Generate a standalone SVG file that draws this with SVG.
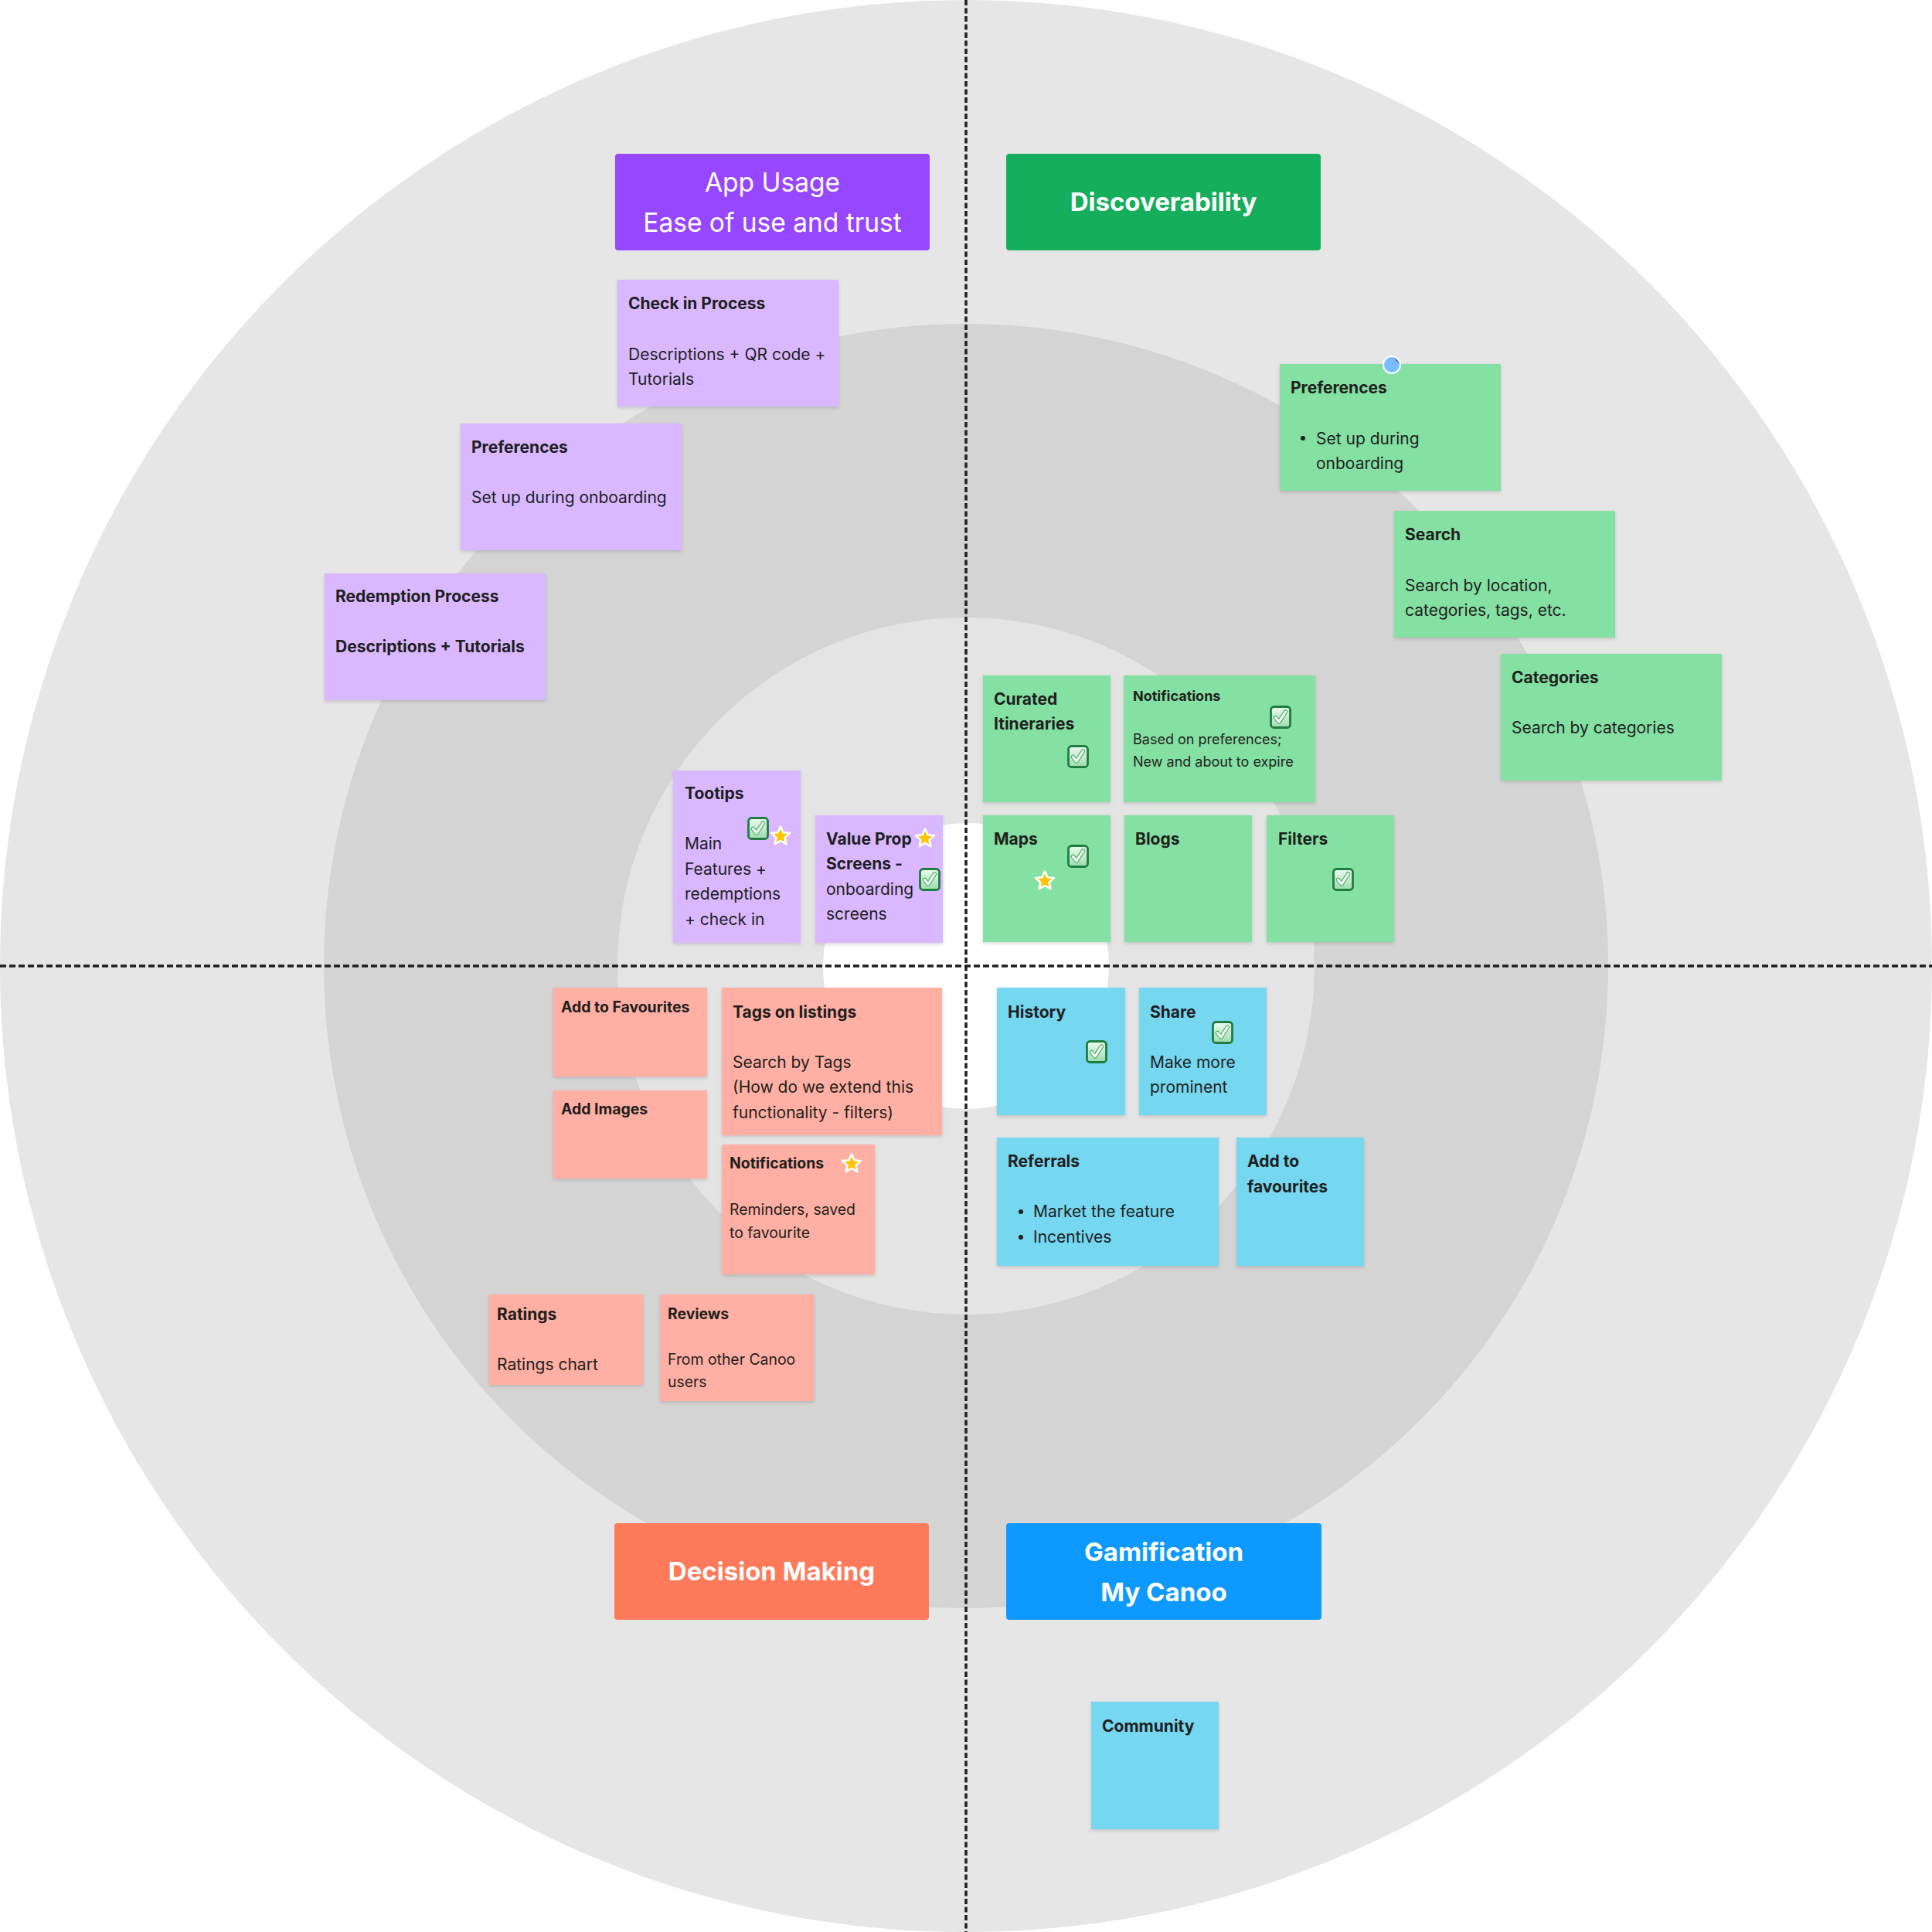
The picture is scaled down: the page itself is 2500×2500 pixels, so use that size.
<svg xmlns="http://www.w3.org/2000/svg" xmlns:xlink="http://www.w3.org/1999/xlink" width="2500" height="2500" viewBox="0 0 2500 2500">
<defs>
<style>
text{font-family:Inter,"Liberation Sans",sans-serif;fill:#1e1e1e}
.t{font-size:21px;font-weight:700}
.ts{font-size:18px;font-weight:700}
.tr{font-size:19.4px;font-weight:700}
.b{font-size:21px;font-weight:400}
.bs{font-size:18px;font-weight:400}
.br{font-size:19.4px;font-weight:400}
.hd{fill:#fff;font-size:33px;font-weight:700;text-anchor:middle}
.hr{fill:#fff;font-size:33.5px;font-weight:400;text-anchor:middle}
.purple{fill:#d9b8ff}
.green{fill:#85e0a3}
.red{fill:#ffafa3}
.blue{fill:#75d7f0}
.sticky{filter:url(#sh)}
.div{stroke:#1e1e1e;stroke-width:3.5;fill:none}
</style>
<filter id="sh" x="-10%" y="-10%" width="120%" height="125%">
<feDropShadow dx="0" dy="2" stdDeviation="2" flood-color="#000" flood-opacity="0.15"/>
</filter>
<linearGradient id="cg" x1="0" y1="0" x2="0" y2="1">
<stop offset="0" stop-color="#eefaf0"/>
<stop offset="1" stop-color="#9edcae"/>
</linearGradient>
<symbol id="chk" viewBox="0 0 28 30" overflow="visible">
<rect x="1.5" y="1.5" width="25" height="27" rx="4" fill="url(#cg)" stroke="#1f7d42" stroke-width="2.8"/>
<path d="M7.5 15.5 L12 21 L20.5 8" fill="none" stroke="#4cb46c" stroke-width="5.5" stroke-linecap="round" stroke-linejoin="round"/>
<path d="M7.5 15.5 L12 21 L20.5 8" fill="none" stroke="#fff" stroke-width="3" stroke-linecap="round" stroke-linejoin="round"/>
</symbol>
<symbol id="star" viewBox="-14 -14 28 28" overflow="visible">
<polygon points="0,-12.5 3.5,-4.7 12,-3.9 5.6,1.9 7.4,10.2 0,5.9 -7.4,10.2 -5.6,1.9 -12,-3.9 -3.5,-4.7" fill="#ffc300" stroke="#fff" stroke-width="2.6" stroke-linejoin="round"/>
</symbol>
</defs>

<g id="background">
<rect x="0" y="0" width="2500" height="2500" fill="#ffffff"/>
<circle cx="1250" cy="1250" r="1250" fill="#e6e6e6"/>
<circle cx="1250" cy="1250" r="831" fill="#d4d4d4"/>
<circle cx="1250" cy="1250" r="451" fill="#e4e4e4"/>
<circle cx="1250" cy="1250" r="185" fill="#ffffff"/>
</g>

<g id="connectors">
<line class="div" x1="1250" y1="0" x2="1250" y2="2500" stroke-dasharray="7 3.5"/>
<line class="div" x1="0" y1="1250" x2="2500" y2="1250" stroke-dasharray="8 4"/>
</g>

<g id="header-app-usage">
<rect x="796" y="199" width="407" height="125" rx="4" fill="#9747ff"/>
<text class="hr" x="999.5" y="248">App Usage</text>
<text class="hr" x="999.5" y="300">Ease of use and trust</text>
</g>
<g id="header-discoverability">
<rect x="1302" y="199" width="407" height="125" rx="4" fill="#14ae5c"/>
<text class="hd" x="1505.5" y="273">Discoverability</text>
</g>
<g id="header-decision-making">
<rect x="795" y="1971" width="407" height="125" rx="4" fill="#ff7a5a"/>
<text class="hd" x="998.5" y="2045">Decision Making</text>
</g>
<g id="header-gamification">
<rect x="1302" y="1971" width="408" height="125" rx="4" fill="#0d99ff"/>
<text class="hd" x="1506" y="2020">Gamification</text>
<text class="hd" x="1506" y="2072">My Canoo</text>
</g>

<!-- Purple -->
<g id="check-in-process">
<rect class="purple sticky" x="799" y="362" width="286" height="164"/>
<text class="t" x="813" y="400">Check in Process</text>
<text class="b" x="813" y="466">Descriptions + QR code +</text>
<text class="b" x="813" y="498">Tutorials</text>
</g>
<g id="preferences-purple">
<rect class="purple sticky" x="596" y="548" width="286" height="164"/>
<text class="t" x="610" y="586">Preferences</text>
<text class="b" x="610" y="651">Set up during onboarding</text>
</g>
<g id="redemption-process">
<rect class="purple sticky" x="420" y="742" width="286" height="164"/>
<text class="t" x="434" y="779">Redemption Process</text>
<text class="t" x="434" y="844">Descriptions + Tutorials</text>
</g>
<g id="tootips">
<rect class="purple sticky" x="871" y="997" width="165" height="223"/>
<text class="t" x="886" y="1034">Tootips</text>
<text class="b" x="886" y="1099">Main</text>
<text class="b" x="886" y="1132">Features +</text>
<text class="b" x="886" y="1164">redemptions</text>
<text class="b" x="886" y="1197">+ check in</text>
<use href="#chk" x="967" y="1057" width="28" height="30"/>
<use href="#star" x="996" y="1068" width="28" height="28"/>
</g>
<g id="value-prop">
<rect class="purple sticky" x="1055" y="1055" width="165" height="165"/>
<text class="t" x="1069" y="1093">Value Prop</text>
<text class="t" x="1069" y="1125">Screens -</text>
<text class="b" x="1069" y="1158">onboarding</text>
<text class="b" x="1069" y="1190">screens</text>
<use href="#star" x="1183" y="1071" width="28" height="28"/>
<use href="#chk" x="1189" y="1123" width="28" height="30"/>
</g>

<!-- Green -->
<g id="preferences-green">
<rect class="green sticky" x="1656" y="471" width="286" height="164"/>
<text class="t" x="1670" y="509">Preferences</text>
<circle cx="1686" cy="567" r="3" fill="#1e1e1e"/>
<text class="b" x="1703" y="575">Set up during</text>
<text class="b" x="1703" y="607">onboarding</text>
<circle cx="1801" cy="472" r="11" fill="#78bcff" stroke="#fff" stroke-width="2"/>
<path d="M1803 463 Q1809 466 1811 471 Z" fill="#3a4a5c"/>
</g>
<g id="search">
<rect class="green sticky" x="1804" y="661" width="286" height="164"/>
<text class="t" x="1818" y="699">Search</text>
<text class="b" x="1818" y="765">Search by location,</text>
<text class="b" x="1818" y="797">categories, tags, etc.</text>
</g>
<g id="categories">
<rect class="green sticky" x="1942" y="846" width="286" height="164"/>
<text class="t" x="1956" y="884">Categories</text>
<text class="b" x="1956" y="949">Search by categories</text>
</g>
<g id="curated-itineraries">
<rect class="green sticky" x="1272" y="874" width="165" height="164"/>
<text class="t" x="1286" y="912">Curated</text>
<text class="t" x="1286" y="944">Itineraries</text>
<use href="#chk" x="1381" y="964" width="28" height="30"/>
</g>
<g id="notifications-green">
<rect class="green sticky" x="1454" y="874" width="248" height="164"/>
<text class="ts" x="1466" y="907">Notifications</text>
<use href="#chk" x="1643" y="913" width="28" height="30"/>
<text class="bs" x="1466" y="963">Based on preferences;</text>
<text class="bs" x="1466" y="992">New and about to expire</text>
</g>
<g id="maps">
<rect class="green sticky" x="1272" y="1055" width="165" height="164"/>
<text class="t" x="1286" y="1093">Maps</text>
<use href="#chk" x="1381" y="1093" width="28" height="30"/>
<use href="#star" x="1338" y="1126" width="28" height="28"/>
</g>
<g id="blogs">
<rect class="green sticky" x="1455" y="1055" width="165" height="164"/>
<text class="t" x="1469" y="1093">Blogs</text>
</g>
<g id="filters">
<rect class="green sticky" x="1639" y="1055" width="165" height="164"/>
<text class="t" x="1654" y="1093">Filters</text>
<use href="#chk" x="1724" y="1123" width="28" height="30"/>
</g>

<!-- Red -->
<g id="add-to-favourites-red">
<rect class="red sticky" x="716" y="1278" width="199" height="115"/>
<text class="tr" x="726" y="1310">Add to Favourites</text>
</g>
<g id="add-images">
<rect class="red sticky" x="716" y="1411" width="199" height="114"/>
<text class="tr" x="726" y="1442">Add Images</text>
</g>
<g id="tags-on-listings">
<rect class="red sticky" x="934" y="1278" width="285" height="191"/>
<text class="t" x="948" y="1317">Tags on listings</text>
<text class="b" x="948" y="1382">Search by Tags</text>
<text class="b" x="948" y="1414">(How do we extend this</text>
<text class="b" x="948" y="1447">functionality - filters)</text>
</g>
<g id="notifications-red">
<rect class="red sticky" x="934" y="1481" width="198" height="168"/>
<text class="tr" x="944" y="1512">Notifications</text>
<use href="#star" x="1088" y="1492" width="28" height="28"/>
<text class="br" x="944" y="1572">Reminders, saved</text>
<text class="br" x="944" y="1602">to favourite</text>
</g>
<g id="ratings">
<rect class="red sticky" x="633" y="1675" width="199" height="117"/>
<text class="t" x="643" y="1708">Ratings</text>
<text class="b" x="643" y="1773">Ratings chart</text>
</g>
<g id="reviews">
<rect class="red sticky" x="854" y="1675" width="199" height="138"/>
<text class="tr" x="864" y="1707">Reviews</text>
<text class="br" x="864" y="1766">From other Canoo</text>
<text class="br" x="864" y="1795">users</text>
</g>

<!-- Blue -->
<g id="history">
<rect class="blue sticky" x="1290" y="1278" width="166" height="165"/>
<text class="t" x="1304" y="1317">History</text>
<use href="#chk" x="1405" y="1346" width="28" height="30"/>
</g>
<g id="share">
<rect class="blue sticky" x="1474" y="1278" width="165" height="165"/>
<text class="t" x="1488" y="1317">Share</text>
<use href="#chk" x="1568" y="1321" width="28" height="30"/>
<text class="b" x="1488" y="1382">Make more</text>
<text class="b" x="1488" y="1414">prominent</text>
</g>
<g id="referrals">
<rect class="blue sticky" x="1290" y="1472" width="287" height="166"/>
<text class="t" x="1304" y="1510">Referrals</text>
<circle cx="1321" cy="1568" r="3" fill="#1e1e1e"/>
<text class="b" x="1337" y="1575">Market the feature</text>
<circle cx="1321" cy="1601" r="3" fill="#1e1e1e"/>
<text class="b" x="1337" y="1608">Incentives</text>
</g>
<g id="add-to-favourites-blue">
<rect class="blue sticky" x="1600" y="1472" width="165" height="166"/>
<text class="t" x="1614" y="1510">Add to</text>
<text class="t" x="1614" y="1543">favourites</text>
</g>
<g id="community">
<rect class="blue sticky" x="1412" y="2202" width="165" height="165"/>
<text class="t" x="1426" y="2241">Community</text>
</g>
</svg>
